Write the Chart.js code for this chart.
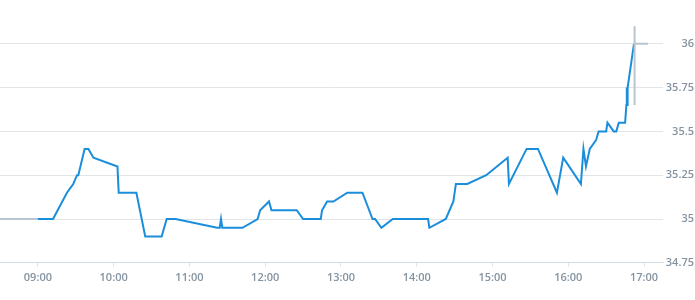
<!DOCTYPE html>
<html>
<head>
<meta charset="utf-8">
<script src="https://cdn.jsdelivr.net/npm/chart.js@4"></script>
<style>
  body { margin: 0; background: #fff; }
  #wrap { width: 695px; height: 300px; position: relative; }
</style>
</head>
<body>
<div id="wrap"><canvas id="myChart"></canvas></div>
<script>
// Intraday trade prices (time of day, price)
const tradeTimes = [
  '09:00', '09:12', '09:23', '09:28', '09:31', '09:32', '09:37', '09:40', '09:44',
  '10:03', '10:04', '10:18', '10:25', '10:38', '10:42', '10:49',
  '11:22', '11:24', '11:25', '11:26', '11:42', '11:54', '11:56',
  '12:03', '12:05', '12:25', '12:30', '12:44', '12:45', '12:49', '12:54',
  '13:05', '13:17', '13:25', '13:27', '13:32', '13:41',
  '14:09', '14:10', '14:23', '14:29', '14:31', '14:40', '14:55',
  '15:12', '15:13', '15:27', '15:36', '15:51', '15:56',
  '16:10', '16:12', '16:14', '16:17', '16:22', '16:24', '16:30', '16:31', '16:36',
  '16:38', '16:40', '16:45', '16:46', '16:46:20', '16:46:40', '16:47', '16:52'
];
const tradePrices = [
  35.00, 35.00, 35.15, 35.20, 35.25, 35.25, 35.40, 35.40, 35.35,
  35.30, 35.15, 35.15, 34.90, 34.90, 35.00, 35.00,
  34.95, 34.95, 35.00, 34.95, 34.95, 35.00, 35.05,
  35.10, 35.05, 35.05, 35.00, 35.00, 35.05, 35.10, 35.10,
  35.15, 35.15, 35.00, 35.00, 34.95, 35.00,
  35.00, 34.95, 35.00, 35.10, 35.20, 35.20, 35.25,
  35.35, 35.20, 35.40, 35.40, 35.15, 35.35,
  35.20, 35.40, 35.30, 35.40, 35.45, 35.50, 35.50, 35.55, 35.50,
  35.50, 35.55, 35.55, 35.65, 35.75, 35.65, 35.75, 36.00
];

// Pre-open and closing auction (grey)
const preTimes = ['08:30', '09:00'];
const prePrices = [35.00, 35.00];
const postTimes = ['16:52:30', '16:52:30', '16:52:30', '16:52:30', '17:03'];
const postPrices = [36.00, 36.10, 35.65, 36.00, 36.00];

const hourTicks = ['09:00', '10:00', '11:00', '12:00', '13:00', '14:00', '15:00', '16:00', '17:00'];
const priceTicks = [34.75, 35, 35.25, 35.5, 35.75, 36];

// 'HH:MM[:SS]' -> minutes since midnight
function toMinutes(t) {
  let p = t.split(':');
  return p[0] * 60 + +p[1] + (p[2] ? p[2] / 60 : 0);
}

function toLabel(m) {
  let h = Math.floor(m / 60), mm = Math.round(m % 60);
  return String(h).padStart(2, '0') + ':' + String(mm).padStart(2, '0');
}

function points(times, values) {
  return times.map((t, i) => ({ x: toMinutes(t), y: values[i] }));
}

const blue = '#1b8edb';
const grey = '#b9c5ce';
const labelColor = '#8493a0';
const gridColor = '#e1e5e8';

let ctx = document.getElementById('myChart').getContext('2d');
let myChart = new Chart(ctx, {
  type: 'line',
  data: {
    datasets: [
      { data: points(preTimes, prePrices), borderColor: grey, borderWidth: 2 },
      { data: points(postTimes, postPrices), borderColor: grey, borderWidth: 2 },
      { data: points(tradeTimes, tradePrices), borderColor: blue, borderWidth: 2 }
    ]
  },
  options: {
    responsive: true,
    maintainAspectRatio: false,
    animation: false,
    layout: { padding: { left: 0, right: 1, top: 0, bottom: 12 } },
    elements: {
      point: { radius: 0, hoverRadius: 0 },
      line: { tension: 0, fill: false }
    },
    plugins: {
      legend: { display: false },
      tooltip: { enabled: false }
    },
    scales: {
      x: {
        type: 'linear',
        min: toMinutes('08:30'),
        max: toMinutes('17:15'),
        afterBuildTicks: scale => {
          scale.ticks = hourTicks.map(t => ({ value: toMinutes(t) }));
        },
        grid: { drawOnChartArea: false, color: gridColor, tickLength: 4 },
        border: { color: '#d3dae0' },
        ticks: {
          callback: v => toLabel(v),
          color: labelColor,
          padding: 4,
          maxRotation: 0,
          font: { family: 'Open Sans', size: 11, weight: '600' }
        }
      },
      y: {
        position: 'right',
        min: 34.75,
        max: 36.25,
        afterBuildTicks: scale => {
          scale.ticks = priceTicks.map(v => ({ value: v }));
        },
        // labels sit inside the range, so no extra room above/below
        afterFit: scale => {
          scale.paddingTop = 0;
          scale.paddingBottom = 0;
          scale.width = 31;
        },
        grid: { color: gridColor, drawTicks: false },
        border: { display: false },
        ticks: {
          callback: v => String(+v.toFixed(2)),
          color: labelColor,
          padding: 4,
          crossAlign: 'far',
          font: { family: 'Open Sans', size: 11, weight: '600' }
        }
      }
    }
  }
});
</script>
</body>
</html>
